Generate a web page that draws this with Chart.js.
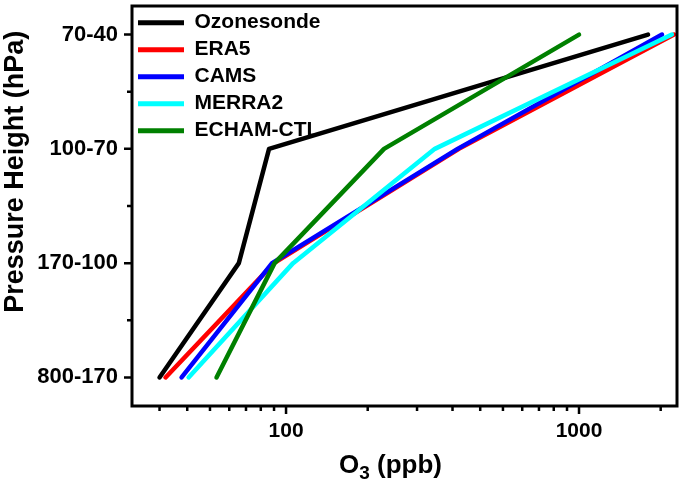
<!DOCTYPE html>
<html>
<head>
<meta charset="utf-8">
<script src="https://cdn.jsdelivr.net/npm/chart.js@4.4.1/dist/chart.umd.min.js"></script>
<style>
  html, body { margin: 0; padding: 0; background: #fff; }
  #wrap { width: 685px; height: 489px; }
</style>
</head>
<body>
<div id="wrap"><canvas id="c" width="685" height="489"></canvas></div>
<script>
// pressure layers, bottom to top
const levels = ["800-170", "170-100", "100-70", "70-40"];

// O3 (ppb) per layer
const ozonesonde = [37, 69, 87.5, 1720];
const era5 = [38.8, 91, 389, 2110];
const cams = [44, 89.6, 385, 1920];
const merra2 = [46.5, 105.7, 322, 2075];
const echam = [57.9, 91.4, 216, 1000];

const seriesNames = ["Ozonesonde", "ERA5", "CAMS", "MERRA2", "ECHAM-CTL"];
const seriesColors = ["#000000", "#ff0000", "#0000ff", "#00ffff", "#008000"];
const seriesValues = [ozonesonde, era5, cams, merra2, echam];

// axis ticks as in the original (Origin style minor ticks)
const xMajor = [100, 1000];
const xMinor = [37, 46, 55, 64, 73, 82, 91, 190, 280, 370, 460, 550, 640, 730, 820, 910, 1900];
const yMinor = [0.5, 1.5, 2.5];

const FONT = "'Liberation Sans', Arial, sans-serif";
Chart.defaults.font.family = FONT;
Chart.defaults.font.weight = "bold";
Chart.defaults.color = "#000";

const frameTicks = {
  id: "frameTicks",
  afterDraw(chart) {
    const { ctx, chartArea: a, scales: { x, y } } = chart;
    ctx.save();
    ctx.strokeStyle = "#000";
    ctx.lineWidth = 2.5;
    ctx.beginPath();
    x.ticks.forEach(t => {
      const px = x.getPixelForValue(t.value);
      const len = xMajor.includes(t.value) ? 8 : 5;
      ctx.moveTo(px, a.bottom);
      ctx.lineTo(px, a.bottom + len);
    });
    y.ticks.forEach(t => {
      const py = y.getPixelForValue(t.value);
      const len = Number.isInteger(t.value) ? 8 : 5;
      ctx.moveTo(a.left, py);
      ctx.lineTo(a.left - len, py);
    });
    ctx.stroke();
    ctx.lineWidth = 3;
    ctx.strokeRect(a.left, a.top, a.right - a.left, a.bottom - a.top);

    ctx.fillStyle = "#000";
    ctx.textBaseline = "middle";

    // x title with a real subscript, a little left of centre like the original
    const big = "bold 26px " + FONT, small = "bold 19px " + FONT;
    ctx.font = big;
    const wO = ctx.measureText("O").width, wRest = ctx.measureText(" (ppb)").width;
    ctx.font = small;
    const w3 = ctx.measureText("3").width;
    let tx = (a.left + a.right) / 2 - 14 - (wO + w3 + wRest) / 2;
    const ty = a.bottom + 60;
    ctx.textAlign = "left";
    ctx.font = big;
    ctx.fillText("O", tx, ty);
    tx += wO;
    ctx.font = small;
    ctx.fillText("3", tx, ty + 8);
    tx += w3;
    ctx.font = big;
    ctx.fillText(" (ppb)", tx, ty);

    // y title, sits a bit above the middle like the original
    ctx.translate(16, y.getPixelForValue(1.8));
    ctx.rotate(-Math.PI / 2);
    ctx.font = "bold 27px " + FONT;
    ctx.textAlign = "center";
    ctx.fillText("Pressure Height (hPa)", 0, 0);
    ctx.restore();
  }
};

const datasets = seriesNames.map((name, i) => ({
  label: name,
  data: levels.map((_, k) => ({ x: seriesValues[i][k], y: k })),
  borderColor: seriesColors[i],
  backgroundColor: seriesColors[i],
  order: seriesNames.length - i
}));

new Chart(document.getElementById("c"), {
  type: "line",
  data: { datasets },
  plugins: [frameTicks],
  options: {
    responsive: false,
    animation: false,
    devicePixelRatio: 1,
    layout: { padding: { top: 6, right: 8, left: 0, bottom: 0 } },
    elements: {
      point: { radius: 0, hoverRadius: 0 },
      line: { borderWidth: 4.5, tension: 0, borderJoinStyle: "round", borderCapStyle: "round" }
    },
    plugins: {
      tooltip: { enabled: false },
      legend: {
        position: "chartArea",
        align: "start",
        // empty title only to push the entries down a few pixels
        title: { display: true, text: "", font: { size: 1 }, padding: { top: 5, bottom: 0 } },
        labels: {
          boxWidth: 46,
          boxHeight: 5,
          padding: 6,
          font: { size: 21, weight: "bold" },
          sort: (a, b) => a.datasetIndex - b.datasetIndex,
          generateLabels: chart =>
            Chart.defaults.plugins.legend.labels.generateLabels(chart)
              .map(it => ({ ...it, lineWidth: 0, fillStyle: it.strokeStyle }))
        }
      }
    },
    scales: {
      x: {
        type: "logarithmic",
        min: 29.8,
        max: 2160,
        afterBuildTicks: s => {
          s.ticks = [...xMinor, ...xMajor].sort((a, b) => a - b).map(v => ({ value: v }));
        },
        afterFit: s => {
          s.height = 83;
          s.paddingLeft = 0;
          s.paddingRight = 0;
        },
        grid: { display: false, drawTicks: true, tickLength: 8 },
        border: { display: false },
        ticks: {
          autoSkip: false,
          maxRotation: 0,
          padding: 5,
          font: { size: 21, weight: "bold" },
          callback: v => xMajor.includes(v) ? String(v) : ""
        }
      },
      y: {
        type: "linear",
        min: -0.25,
        max: 3.25,
        afterBuildTicks: s => {
          s.ticks = [...levels.map((_, i) => i), ...yMinor].sort((a, b) => a - b).map(v => ({ value: v }));
        },
        afterFit: s => {
          s.width = 132;
          s.paddingTop = 0;
          s.paddingBottom = 0;
        },
        grid: { display: false, drawTicks: true, tickLength: 8 },
        border: { display: false },
        ticks: {
          padding: 6,
          font: { size: 22, weight: "bold" },
          callback: v => Number.isInteger(v) ? levels[v] : ""
        }
      }
    }
  }
});
</script>
</body>
</html>
